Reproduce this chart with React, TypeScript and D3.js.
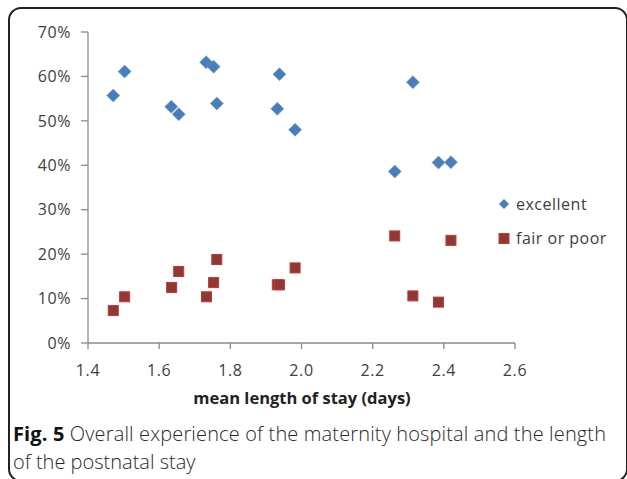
import React from "react";
import * as d3 from "d3";

const excellentX = [1.471, 1.503, 1.634, 1.655, 1.732, 1.753, 1.762, 1.938, 1.932, 1.982, 2.313, 2.262, 2.385, 2.42];
const excellentY = [55.7, 61.1, 53.2, 51.5, 63.2, 62.2, 53.9, 60.5, 52.7, 48.0, 58.7, 38.6, 40.6, 40.7];
const fairX = [1.471, 1.503, 1.635, 1.655, 1.733, 1.753, 1.762, 1.932, 1.938, 1.982, 2.262, 2.42, 2.313, 2.385];
const fairY = [7.3, 10.4, 12.5, 16.1, 10.4, 13.6, 18.8, 13.1, 13.1, 16.9, 24.1, 23.1, 10.6, 9.2];
const xTicks = [1.4, 1.6, 1.8, 2.0, 2.2, 2.4, 2.6];
const yTicks = [0, 10, 20, 30, 40, 50, 60, 70];
const seriesNames = ["excellent", "fair or poor"];
const xTitle = "mean length of stay (days)";
const captionBold = "Fig. 5";
const captionLine1 = " Overall experience of the maternity hospital and the length";
const captionLine2 = "of the postnatal stay";

const W = 627;
const H = 479;

export default function App() {
  const x = d3.scaleLinear().domain([1.4, 2.6]).range([88, 515]);
  const y = d3.scaleLinear().domain([0, 70]).range([343, 32]);
  const axisColor = "#8a8a8a";
  const textColor = "#404040";
  const font = "'Open Sans', sans-serif";
  const blue = "#4a7ebb";
  const sqFill = "#8b3a38";
  const sqStroke = "#d0322f";
  const diamond = (cx: number, cy: number, r: number) =>
    `M${cx},${cy - r}L${cx + r},${cy}L${cx},${cy + r}L${cx - r},${cy}Z`;

  return (
    <svg width={W} height={H} style={{ position: "absolute", left: 0, top: 0, background: "#fff" }}>
      <rect x={9} y={8} width={618} height={473} rx={12} ry={12} fill="#fff" stroke="#222" strokeWidth={2} />
      {/* axes */}
      <line x1={x(1.4)} x2={x(1.4)} y1={y(70)} y2={y(0)} stroke={axisColor} strokeWidth={1.3} />
      <line x1={x(1.4)} x2={x(2.6)} y1={y(0)} y2={y(0)} stroke={axisColor} strokeWidth={1.3} />
      {yTicks.map((t) => (
        <g key={"y" + t}>
          <line x1={x(1.4) - 7} x2={x(1.4)} y1={y(t)} y2={y(t)} stroke={axisColor} strokeWidth={1.3} />
          <text x={71} y={y(t)} dy="0.36em" textAnchor="end" fontFamily={font} fontSize={16} fill={textColor} letterSpacing={0.6}>
            {t + "%"}
          </text>
        </g>
      ))}
      {xTicks.map((t) => (
        <g key={"x" + t}>
          <line x1={x(t)} x2={x(t)} y1={y(0)} y2={y(0) + 6} stroke={axisColor} strokeWidth={1.3} />
          <text x={x(t)} y={376} textAnchor="middle" fontFamily={font} fontSize={16} fill={textColor} letterSpacing={0.6}>
            {d3.format(".1f")(t)}
          </text>
        </g>
      ))}
      <text x={302} y={404} textAnchor="middle" fontFamily={font} fontSize={16.5} fontWeight="bold" fill="#222">
        {xTitle}
      </text>
      {/* excellent */}
      {excellentX.map((v, i) => (
        <path key={"e" + i} d={diamond(x(v), y(excellentY[i]), 6.5)} fill={blue} stroke="#6f9bd0" strokeWidth={0.6} />
      ))}
      {/* fair or poor */}
      {fairX.map((v, i) => (
        <rect key={"f" + i} x={x(v) - 5} y={y(fairY[i]) - 5} width={10} height={10} fill={sqFill} stroke={sqStroke} strokeWidth={1} />
      ))}
      {/* legend */}
      <path d={diamond(504, 204, 5)} fill={blue} />
      <text x={516} y={204} dy="0.36em" fontFamily={font} fontSize={16} fill={textColor} letterSpacing={0.5}>
        {seriesNames[0]}
      </text>
      <rect x={499} y={233.5} width={10} height={10} fill={sqFill} stroke={sqStroke} strokeWidth={1} />
      <text x={516} y={238.5} dy="0.36em" fontFamily={font} fontSize={16} fill={textColor} letterSpacing={0.5}>
        {seriesNames[1]}
      </text>
      {/* caption */}
      <text x={13} y={441} fontFamily={font} fontSize={20} fill="#2a2a2a" fontWeight={300} textLength={593} lengthAdjust="spacing">
        <tspan fontWeight="bold" fill="#111">{captionBold}</tspan>
        <tspan>{captionLine1}</tspan>
      </text>
      <text x={13} y={469} fontFamily={font} fontSize={20} fill="#2a2a2a" fontWeight={300}>
        {captionLine2}
      </text>
    </svg>
  );
}
